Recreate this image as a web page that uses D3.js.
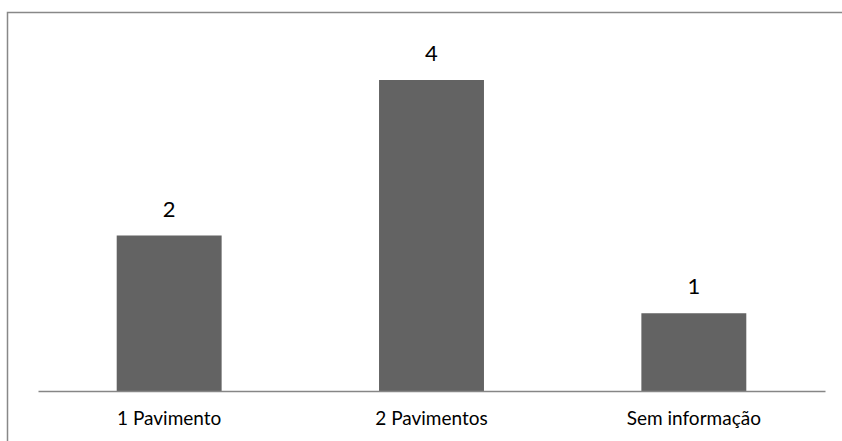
<!DOCTYPE html>
<html>
<head>
<meta charset="utf-8">
<script src="https://cdn.jsdelivr.net/npm/d3@7"></script>
<style>
	body { margin: 0; background: #fff; }
	svg { display: block; }
</style>
</head>
<body>
<svg id="svg_main" width="842" height="441"></svg>
<script>
var categories = ["1 Pavimento", "2 Pavimentos", "Sem informação"];
var values = [2, 4, 1];

var svg = d3.select("#svg_main");
var font = "Lato, 'Open Sans', sans-serif";

// frame, opens to the right and bottom like the original crop
svg.append("path")
	.attr("d", "M7.5,441 V12.5 H842")
	.attr("fill", "none")
	.attr("stroke", "#888888")
	.attr("stroke-width", 1.5);

var x = d3.scaleBand()
	.domain(categories)
	.range([38, 825])
	.paddingInner(0.6)
	.paddingOuter(0.3);

var y = d3.scaleLinear()
	.domain([0, 4])
	.range([391, 80]);

svg.selectAll(".bar")
	.data(values)
	.enter().append("rect")
	.attr("class", "bar")
	.attr("x", (d, i) => x(categories[i]))
	.attr("width", x.bandwidth())
	.attr("y", d => y(d))
	.attr("height", d => y(0) - y(d))
	.attr("fill", "#636363");

svg.selectAll(".val")
	.data(values)
	.enter().append("text")
	.attr("class", "val")
	.attr("x", (d, i) => x(categories[i]) + x.bandwidth() / 2)
	.attr("y", d => y(d) - 19)
	.attr("text-anchor", "middle")
	.attr("font-family", font)
	.attr("font-size", "22px")
	.attr("fill", "#000")
	.text(d => d);

var xAxis = d3.axisBottom(x).tickSize(0).tickPadding(21);
var gx = svg.append("g")
	.attr("transform", `translate(0, ${y(0)})`)
	.call(xAxis);
gx.select(".domain").attr("stroke", "#868686").attr("stroke-width", 1.5);
gx.selectAll(".tick text")
	.attr("font-family", font)
	.attr("font-size", "19px")
	.attr("fill", "#000");
</script>
</body>
</html>
